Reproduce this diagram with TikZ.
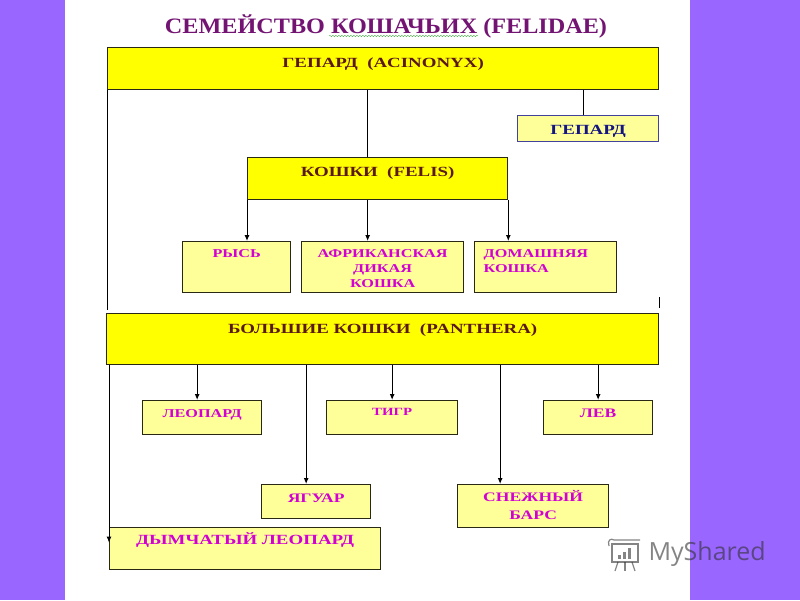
\documentclass[tikz,border=0pt]{standalone}
\usepackage{fontspec}
\setmainfont[FakeStretch=1.35]{Liberation Serif}
\newfontfamily\headfont[FakeStretch=1.1]{Liberation Serif}
\newfontfamily\markfont{Open Sans}
\usetikzlibrary{arrows.meta,decorations.pathmorphing}
\definecolor{violetbg}{RGB}{153,102,255}
\definecolor{gold}{RGB}{255,255,0}
\definecolor{cream}{RGB}{255,255,153}
\definecolor{edge}{RGB}{40,40,20}
\definecolor{maroon}{RGB}{90,25,25}
\definecolor{pinkish}{RGB}{210,0,210}
\definecolor{navy}{RGB}{20,20,130}
\definecolor{plum}{RGB}{115,20,115}
\definecolor{wmgray}{RGB}{50,50,50}

\begin{document}
\begin{tikzpicture}[x=1pt,y=-1pt,
genus/.style={draw=edge,line width=1.3pt,fill=gold,text=maroon,anchor=north west,inner sep=0pt,align=center,font=\bfseries\fontsize{14}{16}\selectfont},
species/.style={draw=edge,line width=1.3pt,fill=cream,text=pinkish,anchor=north west,inner sep=0pt,align=center,font=\bfseries\fontsize{12}{15}\selectfont},
catlink/.style={line width=1pt,black},
catarrow/.style={catlink,-{Latex[length=6pt,width=5pt]}}]
\useasboundingbox (0,0) rectangle (800,600);
\fill[violetbg] (0,0) rectangle (65,600);
\fill[violetbg] (690,0) rectangle (800,600);

% title
\node[anchor=base,text=plum,font=\headfont\bfseries\fontsize{22}{25}\selectfont] (title) at (386,33) {СЕМЕЙСТВО КОШАЧЬИХ (FELIDAE)};
\draw[green!55!black!70,decorate,decoration={snake,amplitude=0.7pt,segment length=3pt}] (329,36) -- (478,36);

% genera
\node[genus,text width=551pt,text height=20pt,text depth=22pt] (acin) at (107,47) {ГЕПАРД~~(ACINONYX)};
\node[species,draw=navy!80,text=navy,text width=141pt,text height=19pt,text depth=7pt,font=\bfseries\fontsize{14}{16}\selectfont] (gepard) at (517,115) {ГЕПАРД};
\node[genus,text width=260pt,text height=19pt,text depth=23pt] (felis) at (247,157) {КОШКИ~~(FELIS)};
\node[species,text width=108pt,text height=16pt,text depth=35pt] (rys) at (182,241) {РЫСЬ};
\node[species,text width=162pt,text height=16pt,text depth=35pt] (afr) at (301,241) {АФРИКАНСКАЯ\\ДИКАЯ\\КОШКА};
\node[species,align=left,inner xsep=9pt,text width=124pt,text height=16pt,text depth=35pt] (dom) at (474,241) {ДОМАШНЯЯ\\КОШКА};
\node[genus,text width=552pt,text height=20pt,text depth=31pt] (panth) at (106,313) {БОЛЬШИЕ~КОШКИ~~(PANTHERA)};
\node[species,text width=119pt,text height=17pt,text depth=17pt] (leo) at (142,400) {ЛЕОПАРД};
\node[species,text width=131pt,text height=15pt,text depth=19pt,font=\bfseries\fontsize{11}{13}\selectfont] (tigr) at (326,400) {ТИГР};
\node[species,text width=109pt,text height=17pt,text depth=17pt,font=\bfseries\fontsize{13}{18}\selectfont] (lev) at (543,400) {ЛЕВ};
\node[species,text width=109pt,text height=18pt,text depth=16pt,font=\bfseries\fontsize{13}{18}\selectfont] (jag) at (261,484) {ЯГУАР};
\node[species,text width=151pt,text height=17pt,text depth=26pt,font=\bfseries\fontsize{13}{18}\selectfont] (snow) at (457,484) {СНЕЖНЫЙ\\БАРС};
\node[species,text width=271pt,text height=17pt,text depth=25pt,font=\bfseries\fontsize{14}{16}\selectfont] (smoky) at (109,527) {ДЫМЧАТЫЙ ЛЕОПАРД};

% links
\draw[catlink] ([xshift=-10pt]felis.north |- acin.south) -- ([xshift=-10pt]felis.north);
\draw[catlink] ([xshift=-5pt]gepard.north |- acin.south) -- ([xshift=-5pt]gepard.north);
\draw[catlink,shorten >=3pt] (acin.south west) -- (acin.south west |- panth.north);
\draw[line width=1.5pt] ([yshift=5pt]panth.north east) -- ([yshift=16pt]panth.north east);
\draw[catarrow] (felis.south west) -- (felis.south west |- rys.north);
\draw[catarrow] ([xshift=-10pt]felis.south) -- ([xshift=-10pt]felis.south |- afr.north);
\draw[catarrow] (felis.south east) -- (felis.south east |- dom.north);
\draw[catarrow] ([xshift=-5pt]leo.north |- panth.south) -- ([xshift=-5pt]leo.north);
\draw[catarrow] ([xshift=-10pt]jag.north |- panth.south) -- ([xshift=-10pt]jag.north);
\draw[catarrow] (tigr.north |- panth.south) -- (tigr.north);
\draw[catarrow] ([xshift=-33pt]snow.north |- panth.south) -- ([xshift=-33pt]snow.north);
\draw[catarrow] (lev.north |- panth.south) -- (lev.north);
\draw[catarrow] (smoky.north west |- panth.south) -- ([yshift=6pt]smoky.west);

% watermark
\node[text=wmgray,opacity=0.6,font=\markfont\fontsize{25}{28}\selectfont,anchor=west] (brand) at (645,554) {MyShared};
\begin{scope}[draw=wmgray,fill=wmgray,opacity=0.6,line width=1.2pt]
\draw (612,544) rectangle (638,562);
\draw (609,546) .. controls (607,540) and (611,538) .. (614,540) -- (640,540);
\fill (618,555) rectangle (621,559);
\fill (623,552) rectangle (626,559);
\fill (628,548) rectangle (631,559);
\draw (618,562) -- (615,571);
\draw (625,562) -- (625,571);
\draw (632,562) -- (635,571);
\end{scope}
\end{tikzpicture}
\end{document}
